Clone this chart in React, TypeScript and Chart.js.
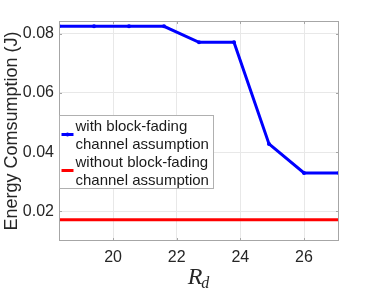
import React, { useEffect, useRef } from "react";
import { Chart, registerables } from "chart.js";

Chart.register(...registerables);

const rdValues = [18.3, 19.4, 20.5, 21.6, 22.7, 23.8, 24.9, 26.0, 27.1];
const withBlockFading = [0.0825, 0.0825, 0.0825, 0.0825, 0.0771, 0.0771, 0.0428, 0.033, 0.033];
const withoutBlockFading = [0.0172, 0.0172, 0.0172, 0.0172, 0.0172, 0.0172, 0.0172, 0.0172, 0.0172];
const xTicks = [20, 22, 24, 26];
const yTicks = [0.02, 0.04, 0.06, 0.08];
const legendLabels = [
  ["with block-fading", "channel assumption"],
  ["without block-fading", "channel assumption"],
];
const seriesColors = ["#0000ff", "#ff0000"];

const FONT = "'Liberation Sans', Arial, Helvetica, sans-serif";
const SERIF = "'Liberation Serif', 'DejaVu Serif', serif";

const overlayPlugin = {
  id: "overlay",
  afterDraw(chart: any) {
    const { ctx, chartArea } = chart;
    const { left, right, top, bottom } = chartArea;
    ctx.save();
    // box
    ctx.strokeStyle = "#a6a6a6";
    ctx.lineWidth = 1;
    ctx.strokeRect(Math.round(left) + 0.5, Math.round(top) + 0.5, Math.round(right - left) - 1, Math.round(bottom - top) - 1);
    // inward tick marks
    const xs = chart.scales.x;
    const ys = chart.scales.y;
    ctx.beginPath();
    xTicks.forEach((v) => {
      const px = Math.round(xs.getPixelForValue(v)) + 0.5;
      ctx.moveTo(px, bottom);
      ctx.lineTo(px, bottom - 3);
      ctx.moveTo(px, top);
      ctx.lineTo(px, top + 3);
    });
    yTicks.forEach((v) => {
      const py = Math.round(ys.getPixelForValue(v)) + 0.5;
      ctx.moveTo(left, py);
      ctx.lineTo(left + 3, py);
      ctx.moveTo(right, py);
      ctx.lineTo(right - 3, py);
    });
    ctx.stroke();

    // legend
    const lx = left + 0.5;
    const ly = top + 94.5;
    const lw = 154;
    const lh = 73;
    ctx.fillStyle = "#ffffff";
    ctx.fillRect(lx, ly, lw, lh);
    ctx.strokeStyle = "#b0b0b0";
    ctx.strokeRect(lx, ly, lw, lh);
    ctx.font = `15px ${FONT}`;
    ctx.textBaseline = "middle";
    ctx.textAlign = "left";
    legendLabels.forEach((lines, i) => {
      const y0 = ly + 11 + i * 36;
      lines.forEach((t, j) => {
        ctx.fillStyle = "#1a1a1a";
        ctx.fillText(t, lx + 16, y0 + j * 18);
      });
      const sy = y0 + 8;
      ctx.strokeStyle = seriesColors[i];
      ctx.lineWidth = 3;
      ctx.beginPath();
      ctx.moveTo(lx + 2, sy);
      ctx.lineTo(lx + 14, sy);
      ctx.stroke();
      if (i === 0) {
        ctx.fillStyle = seriesColors[i];
        ctx.beginPath();
        ctx.arc(lx + 8, sy, 2, 0, Math.PI * 2);
        ctx.fill();
      }
    });

    // x title R_d
    const cx = (left + right) / 2;
    ctx.fillStyle = "#262626";
    ctx.textBaseline = "alphabetic";
    ctx.font = `italic 24px ${SERIF}`;
    const rw = ctx.measureText("R").width;
    ctx.font = `italic 16px ${SERIF}`;
    const dw = ctx.measureText("d").width;
    const sx = cx - (rw + dw) / 2;
    ctx.font = `italic 24px ${SERIF}`;
    ctx.fillText("R", sx, 284);
    ctx.font = `italic 16px ${SERIF}`;
    ctx.fillText("d", sx + rw - 1, 288);
    ctx.restore();
  },
};

export default function App() {
  const ref = useRef<HTMLCanvasElement>(null);
  useEffect(() => {
    if (!ref.current) return;
    const chart = new Chart(ref.current, {
      type: "line",
      data: {
        datasets: [
          {
            label: "with block-fading channel assumption",
            data: rdValues.map((x, i) => ({ x, y: withBlockFading[i] })),
            borderColor: seriesColors[0],
            backgroundColor: seriesColors[0],
            borderWidth: 3,
            pointRadius: 2,
            pointBorderWidth: 0,
            tension: 0,
          },
          {
            label: "without block-fading channel assumption",
            data: rdValues.map((x, i) => ({ x, y: withoutBlockFading[i] })),
            borderColor: seriesColors[1],
            backgroundColor: seriesColors[1],
            borderWidth: 3,
            pointRadius: 0,
            tension: 0,
          },
        ],
      },
      options: {
        animation: false,
        responsive: false,
        layout: { padding: { top: 21, right: 35, left: 0, bottom: 0 } },
        plugins: { legend: { display: false }, tooltip: { enabled: false } },
        scales: {
          x: {
            type: "linear",
            min: 18.3,
            max: 27.1,
            afterBuildTicks: (s: any) => {
              s.ticks = xTicks.map((v) => ({ value: v }));
            },
            afterFit: (s: any) => {
              s.height = 50;
            },
            grid: { color: "#e8e8e8", drawTicks: false },
            border: { display: false },
            ticks: {
              padding: 7,
              color: "#262626",
              font: { family: FONT, size: 16 },
              callback: (v: any) => String(v),
            },
          },
          y: {
            type: "linear",
            min: 0.01,
            max: 0.0843,
            afterBuildTicks: (s: any) => {
              s.ticks = yTicks.map((v) => ({ value: v }));
            },
            afterFit: (s: any) => {
              s.width = 59;
            },
            grid: { color: "#e8e8e8", drawTicks: false },
            border: { display: false },
            title: {
              display: true,
              text: "Energy Comsumption (J)",
              color: "#262626",
              font: { family: FONT, size: 18, weight: "normal" },
              padding: { top: 1, bottom: 0 },
            },
            ticks: {
              padding: 5,
              color: "#262626",
              font: { family: FONT, size: 16 },
              callback: (v: any) => Number(v).toFixed(2),
            },
          },
        },
      },
      plugins: [overlayPlugin],
    } as any);
    return () => chart.destroy();
  }, []);
  return (
    <div style={{ position: "fixed", left: 0, top: 0, width: 374, height: 291, background: "#fff" }}>
      <canvas ref={ref} width={374} height={291} style={{ width: 374, height: 291, display: "block" }} />
    </div>
  );
}
